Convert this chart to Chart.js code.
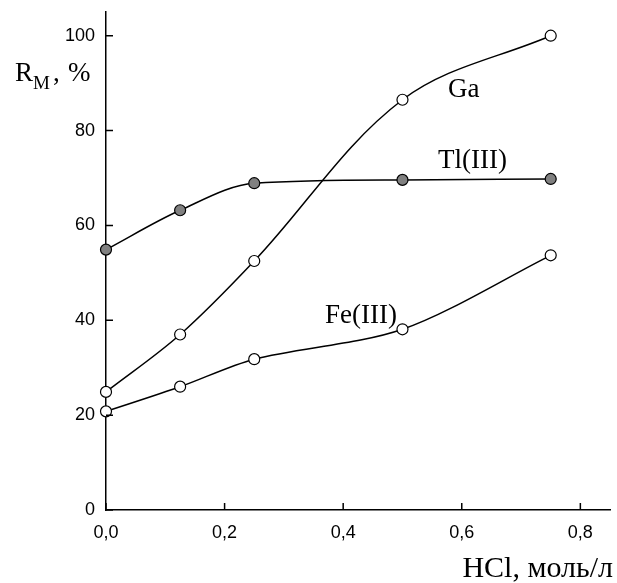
<!DOCTYPE html>
<html>
<head>
<meta charset="utf-8">
<script src="https://cdn.jsdelivr.net/npm/chart.js@4"></script>
<style>
  html, body { margin: 0; padding: 0; background: #fff; }
</style>
</head>
<body>
<canvas id="chart" width="617" height="583"></canvas>
<script>
const hcl = [0, 0.125, 0.25, 0.5, 0.75];
const ga = [24.9, 37.0, 52.5, 86.5, 100];
const tl = [54.9, 63.2, 68.9, 69.6, 69.8];
const fe = [20.8, 26.0, 31.8, 38.1, 53.7];

const xTicks = [0, 0.2, 0.4, 0.6, 0.8];
const xTickLabels = ["0,0", "0,2", "0,4", "0,6", "0,8"];
const yTicks = [0, 20, 40, 60, 80, 100];

const serif = "'Liberation Serif', 'Times New Roman', serif";
const sans = "'Liberation Sans', Arial, sans-serif";

function points(ys) {
  return hcl.map((x, i) => ({ x, y: ys[i] }));
}

function series(label, ys, fill, smooth, tension) {
  return {
    label,
    data: points(ys),
    borderColor: "#000",
    borderWidth: 1.5,
    cubicInterpolationMode: smooth,
    tension,
    pointRadius: 5.5,
    pointBorderWidth: 1.2,
    pointBackgroundColor: fill,
    pointBorderColor: "#000",
    clip: false
  };
}

// inward tick marks and the free text on the plot
const extras = {
  id: "extras",
  afterDraw(chart) {
    const { ctx, chartArea: area, scales: { x, y } } = chart;
    ctx.save();
    ctx.strokeStyle = "#000";
    ctx.lineWidth = 1.5;
    ctx.beginPath();
    xTicks.forEach((v) => {
      const px = x.getPixelForValue(v);
      ctx.moveTo(px, area.bottom);
      ctx.lineTo(px, area.bottom - 7);
    });
    yTicks.forEach((v) => {
      const py = y.getPixelForValue(v);
      ctx.moveTo(area.left, py);
      ctx.lineTo(area.left + 7, py);
    });
    ctx.stroke();

    ctx.fillStyle = "#000";
    ctx.textBaseline = "alphabetic";
    ctx.font = "27px " + serif;
    ctx.fillText("Ga", 448, 97);
    ctx.fillText("Tl(III)", 438, 168);
    ctx.fillText("Fe(III)", 325, 323);

    ctx.fillText("R", 15, 81);
    ctx.font = "19px " + serif;
    ctx.fillText("M", 33, 89);
    ctx.font = "27px " + serif;
    ctx.fillText(",", 53, 81);
    ctx.fillText("%", 68, 81);

    ctx.font = "30px " + serif;
    ctx.textAlign = "right";
    ctx.fillText("HCl, моль/л", 613, 577);
    ctx.restore();
  }
};

new Chart(document.getElementById("chart"), {
  type: "line",
  data: {
    datasets: [
      series("Ga", ga, "#fff", "default", 0.35),
      series("Tl(III)", tl, "#808080", "monotone", 0.4),
      series("Fe(III)", fe, "#fff", "default", 0.3)
    ]
  },
  options: {
    responsive: false,
    animation: false,
    devicePixelRatio: 1,
    layout: { padding: { top: 12, right: 7, left: 0, bottom: 0 } },
    plugins: {
      legend: { display: false },
      tooltip: { enabled: false }
    },
    scales: {
      x: {
        type: "linear",
        min: 0,
        max: 0.85,
        afterBuildTicks: (scale) => { scale.ticks = xTicks.map((value) => ({ value })); },
        afterFit: (scale) => {
          scale.height = 73;
          scale.paddingLeft = 0;
          scale.paddingRight = 0;
        },
        grid: { display: true, drawOnChartArea: false, drawTicks: false },
        border: { color: "#000", width: 1.5 },
        ticks: {
          padding: 12,
          color: "#000",
          font: { family: sans, size: 18 },
          callback: (v) => xTickLabels[xTicks.indexOf(v)]
        }
      },
      y: {
        min: 0,
        max: 105,
        afterBuildTicks: (scale) => { scale.ticks = yTicks.map((value) => ({ value })); },
        afterFit: (scale) => {
          scale.width = 106;
          scale.paddingTop = 0;
          scale.paddingBottom = 0;
        },
        grid: { display: true, drawOnChartArea: false, drawTicks: false },
        border: { color: "#000", width: 1.5 },
        ticks: {
          padding: 11,
          color: "#000",
          font: { family: sans, size: 18 }
        }
      }
    }
  },
  plugins: [extras]
});
</script>
</body>
</html>
